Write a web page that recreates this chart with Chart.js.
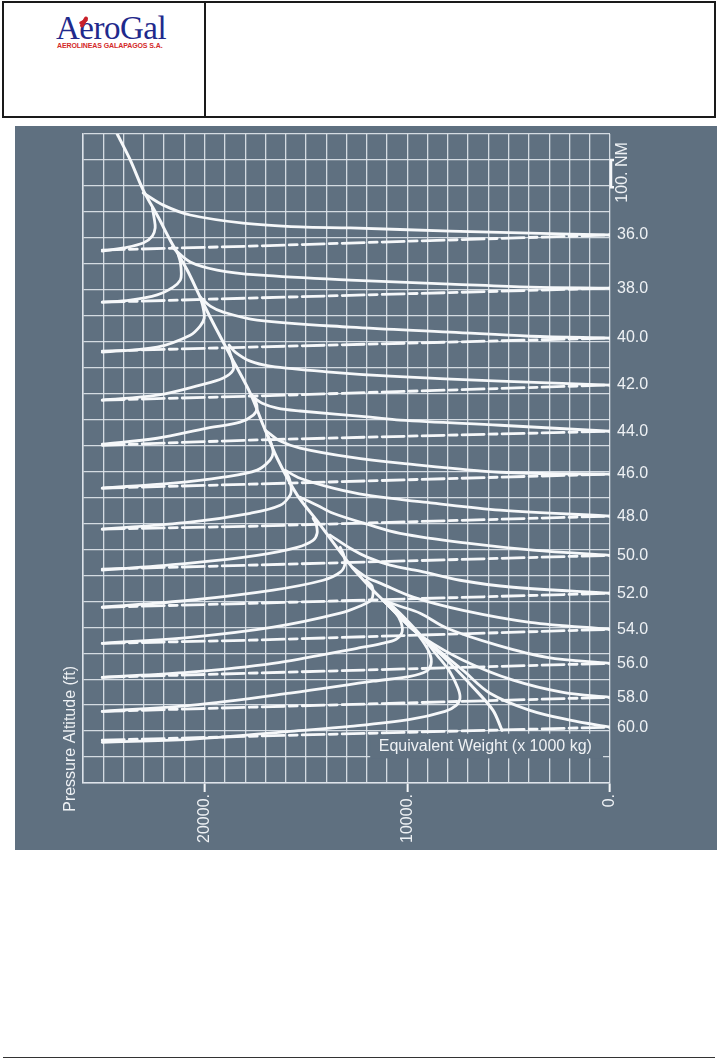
<!DOCTYPE html>
<html><head><meta charset="utf-8">
<script src="https://cdn.jsdelivr.net/npm/chart.js@4.4.1/dist/chart.umd.min.js"></script>
<style>
html,body{margin:0;padding:0;background:#fff;}
body{width:717px;height:1062px;position:relative;overflow:hidden;font-family:'Liberation Sans',Arial,sans-serif;}
#hdr{position:absolute;left:2px;top:1px;width:710px;height:113px;border:2px solid #1a1a1a;}
#hdr .dv{position:absolute;left:200px;top:0;width:2px;height:100%;background:#1a1a1a;}
#logo{position:absolute;left:52px;top:7px;font-family:'Liberation Serif','Times New Roman',serif;font-size:33px;color:#1f2a8c;letter-spacing:-0.5px;}
#bird{position:absolute;left:78px;top:13px;width:4px;height:12px;background:#c8202a;transform:rotate(30deg);border-radius:2px;}
#bird2{position:absolute;left:75px;top:17px;width:9px;height:3px;background:#c8202a;transform:rotate(-25deg);border-radius:2px;}
#sub{position:absolute;left:53px;top:39px;font-size:7px;font-weight:bold;color:#d42a2a;letter-spacing:-0.1px;}
#panel{position:absolute;left:15px;top:126px;width:702px;height:724px;background:#5f7080;}
#foot{position:absolute;left:3px;top:1057px;width:712px;height:1px;background:#333;}
</style></head>
<body>
<div id="hdr"><div class="dv"></div><div id="logo">AeroGal</div><div id="bird"></div><div id="bird2"></div><div id="sub">AEROLINEAS GALAPAGOS S.A.</div></div>
<div id="panel"><canvas id="c" width="702" height="724"></canvas></div>
<div id="foot"></div>
<script>
// Equivalent weight families (x 1000 kg)
const weights = [36,38,40,42,44,46,48,50,52,54,56,58,60];
// distance position (NM) where each family ends at 0 ft (right edge)
const endNm = [389, 594, 786, 967, 1145, 1310, 1472, 1623, 1769, 1908, 2039, 2170, 2285];
// envelope line (pressure altitude ft, distance NM)
const envAlt = [24310, 23670, 23030, 22290, 21700, 20860, 20220, 19580, 18740, 17750, 17110, 16420, 15430, 14400, 13560, 12720, 11930, 11190, 9620, 8040, 6760, 5770, 5330];
const envNm  = [0, 100, 216, 320, 409, 524, 628, 728, 852, 998, 1122, 1249, 1391, 1495, 1584, 1669, 1738, 1796, 1912, 2027, 2131, 2220, 2297];
// solid curves from envelope to right-edge label
const upperAlt = [
 [23030, 22040, 20710, 18100, 15290, 12820, 7890, 3950, 0],
 [21600, 20710, 19380, 17410, 12820, 7890, 3950, 0],
 [20220, 19720, 19080, 17410, 12820, 7890, 3950, 0],
 [18790, 18490, 17750, 16770, 13810, 10850, 5420, 0],
 [17600, 17160, 16420, 15290, 11830, 10360, 5420, 0],
 [17010, 16270, 15290, 12820, 10360, 5420, 0],
 [16030, 15290, 13660, 11980, 8730, 5420, 0],
 [15290, 14450, 13660, 11980, 10360, 7050, 3800, 0],
 [13810, 12820, 11980, 10850, 9370, 7400, 4780, 0],
 [12720, 11930, 11340, 9710, 7250, 3950, 0],
 [11190, 10360, 9370, 8040, 5570, 3110, 0],
 [11190, 10110, 9220, 7250, 4780, 2320, 0],
 [11190, 9860, 8880, 7250, 5920, 3950, 1970, 0]
];
const upperNm = [
 [227, 274, 312, 343, 358, 362, 374, 382, 389],
 [436, 493, 524, 543, 563, 578, 590, 594],
 [628, 663, 686, 717, 744, 763, 779, 786],
 [813, 840, 875, 894, 917, 933, 952, 967],
 [1014, 1037, 1056, 1067, 1091, 1102, 1122, 1145],
 [1141, 1183, 1210, 1245, 1268, 1303, 1310],
 [1295, 1326, 1364, 1391, 1422, 1449, 1472],
 [1399, 1430, 1461, 1503, 1538, 1576, 1603, 1623],
 [1545, 1596, 1630, 1661, 1684, 1719, 1746, 1769],
 [1669, 1711, 1730, 1784, 1835, 1881, 1908],
 [1796, 1819, 1846, 1904, 1969, 2016, 2039],
 [1796, 1881, 1939, 2027, 2104, 2151, 2170],
 [1796, 1900, 1962, 2066, 2154, 2220, 2258, 2285]
];
// solid hook curves from left edge to nose and up into the envelope
const hookAlt = [
 [25050, 24010, 23030, 22580, 22440, 22490, 22580],
 [25050, 23670, 22340, 21550, 21200, 21150, 21200, 21300],
 [25050, 22340, 20710, 20220, 20020, 20070, 20170],
 [25050, 22340, 20220, 19080, 18590, 18640, 18790],
 [25050, 22340, 19870, 18250, 17600, 17410, 17500, 17650],
 [25050, 21550, 19080, 17410, 16770, 16620, 16720, 16860],
 [25050, 20710, 17750, 16270, 15780, 15730, 15830, 15980],
 [25050, 20710, 17410, 15430, 14650, 14450, 14500, 14650],
 [25050, 20710, 16620, 14150, 13310, 13070, 13170, 13310],
 [25050, 20710, 16620, 13310, 12230, 11790, 11690, 11740, 12030],
 [25050, 20710, 16620, 12480, 11240, 10550, 10260, 10310, 10600, 11100],
 [25050, 20710, 15780, 11690, 9860, 9070, 8830, 8880, 9270, 9960, 10750],
 [25050, 20710, 15780, 12820, 9860, 8140, 7590, 7400, 7500, 7890, 8530, 9470, 10360, 10950]
];
const hookNm = [
 [451, 439, 420, 393, 362, 324, 285],
 [648, 640, 620, 590, 563, 536, 493, 466],
 [840, 821, 775, 740, 709, 671, 640],
 [1025, 1006, 967, 940, 909, 871, 833],
 [1195, 1172, 1133, 1110, 1083, 1056, 1025, 1006],
 [1364, 1345, 1322, 1295, 1256, 1226, 1191, 1164],
 [1522, 1495, 1461, 1430, 1391, 1360, 1326, 1303],
 [1680, 1653, 1623, 1592, 1565, 1538, 1503, 1480],
 [1823, 1796, 1757, 1719, 1688, 1653, 1615, 1592],
 [1962, 1939, 1900, 1846, 1815, 1796, 1773, 1742, 1719],
 [2093, 2073, 2039, 1981, 1962, 1946, 1919, 1881, 1842, 1804],
 [2224, 2201, 2154, 2108, 2089, 2070, 2043, 2004, 1950, 1881, 1819],
 [2343, 2332, 2301, 2282, 2255, 2224, 2201, 2174, 2135, 2073, 2008, 1919, 1846, 1804]
];
// dashed lines: left edge -> mid -> right label
const dashAlt = [25050, 17750, 0];
const dashStartNm = [447, 648, 836, 1025, 1199, 1364, 1522, 1676, 1823, 1962, 2093, 2224, 2335];
const dashMidNm   = [432, 632, 821, 1010, 1179, 1349, 1511, 1661, 1808, 1950, 2077, 2208, 2320];
// axis tick labels
const altLabelTicks = [0, 10000, 20000];

const PANEL = '#5f7080';
const WHITE = '#f6f8fa';
const GRID = 'rgba(222,228,234,0.92)';
const TXT = '#eef1f4';
const FAM = "'Liberation Sans', Arial, sans-serif";

function pts(a, n){ return a.map((v,i)=>({x:v, y:n[i]})); }
const datasets = [];
datasets.push({data: pts(envAlt, envNm), borderWidth: 3, tension: 0.3});
weights.forEach((w, i) => {
  datasets.push({data: pts(upperAlt[i], upperNm[i]), borderWidth: 2.8, tension: 0.35});
  datasets.push({data: pts(hookAlt[i], hookNm[i]), borderWidth: 2.8, tension: 0.35});
  datasets.push({data: pts(dashAlt, [dashStartNm[i], dashMidNm[i], endNm[i]]), borderWidth: 2.8, tension: 0, borderDash: [22,5,8,5]});
});

const deco = {
  id: 'deco',
  beforeDatasetsDraw(chart){
    const {ctx, scales:{x, y}} = chart;
    ctx.save();
    ctx.fillStyle = PANEL;
    const x0 = x.getPixelForValue(11830), x1 = x.getPixelForValue(345);
    const y0 = y.getPixelForValue(2310), y1 = y.getPixelForValue(2405);
    ctx.fillRect(x0, y0, x1 - x0, y1 - y0);
    ctx.restore();
  },
  afterDraw(chart){
    const {ctx, chartArea:a, scales:{x, y}} = chart;
    ctx.save();
    ctx.fillStyle = TXT;
    ctx.font = '16px ' + FAM;
    ctx.textAlign = 'left'; ctx.textBaseline = 'alphabetic';
    ctx.fillText('Equivalent Weight (x 1000 kg)', x.getPixelForValue(11410), y.getPixelForValue(2375));
    ctx.save();
    ctx.translate(a.left - 12.5, y.getPixelForValue(2330));
    ctx.rotate(-Math.PI/2);
    ctx.textAlign = 'center'; ctx.textBaseline = 'middle';
    ctx.fillText('Pressure Altitude (ft)', 0, 0);
    ctx.restore();
    const b0 = y.getPixelForValue(100), b1 = y.getPixelForValue(205);
    ctx.strokeStyle = WHITE; ctx.lineWidth = 2.5;
    ctx.beginPath();
    ctx.moveTo(a.right + 4, b0); ctx.lineTo(a.right + 1, b0); ctx.lineTo(a.right + 1, b1); ctx.lineTo(a.right + 4, b1);
    ctx.stroke();
    ctx.save();
    ctx.translate(a.right + 13, y.getPixelForValue(148));
    ctx.rotate(-Math.PI/2);
    ctx.textAlign = 'center'; ctx.textBaseline = 'middle';
    ctx.fillText('100. NM', 0, 0);
    ctx.restore();
    ctx.restore();
  }
};

new Chart(document.getElementById('c'), {
  type: 'line',
  data: {datasets},
  plugins: [deco],
  options: {
    responsive: false, animation: false,
    layout: {padding: {top: 8, left: 0, right: 0, bottom: 0}},
    plugins: {legend: {display: false}, tooltip: {enabled: false}},
    elements: {point: {radius: 0}, line: {borderColor: WHITE, fill: false, borderCapStyle: 'round'}},
    scales: {
      x: {
        type: 'linear', reverse: true, min: 0, max: 26000,
        ticks: {stepSize: 1000, autoSkip: false, minRotation: 90, maxRotation: 90, padding: 2,
          color: TXT, font: {size: 16, family: FAM},
          callback: v => altLabelTicks.includes(v) ? (v + '.') : ''},
        grid: {color: GRID, lineWidth: 1.3, tickLength: 9, tickWidth: 2,
          tickColor: c => (c.tick && altLabelTicks.includes(c.tick.value)) ? WHITE : 'rgba(0,0,0,0)'},
        border: {color: GRID, width: 1.5},
        afterFit: s => { s.height = 67; s.paddingLeft = 0; s.paddingRight = 0; }
      },
      y: {
        type: 'linear', reverse: true, min: 0, max: 2500, position: 'left',
        ticks: {display: false, stepSize: 100},
        grid: {color: GRID, lineWidth: 1.3, drawTicks: false},
        border: {color: GRID, width: 1.5},
        afterFit: s => { s.width = 68; s.paddingTop = 0; s.paddingBottom = 0; }
      },
      yw: {
        type: 'linear', reverse: true, min: 0, max: 2500, position: 'right',
        grid: {display: false, drawTicks: false},
        border: {display: false},
        afterBuildTicks: s => { s.ticks = endNm.map(v => ({value: v})); },
        ticks: {autoSkip: false, padding: 7, color: TXT, font: {size: 16, family: FAM},
          callback: (v, i) => weights[i].toFixed(1)},
        afterFit: s => { s.width = 107; s.paddingTop = 0; s.paddingBottom = 0; }
      }
    }
  }
});
</script>
</body></html>
